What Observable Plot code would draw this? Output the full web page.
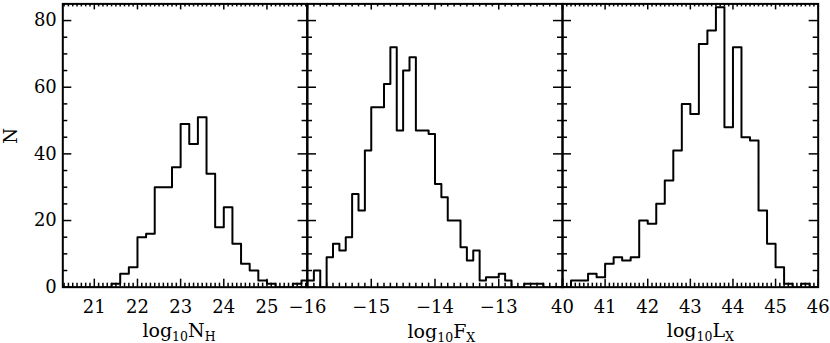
<!DOCTYPE html>
<html><head><meta charset="utf-8">
<script src="https://cdn.jsdelivr.net/npm/d3@7"></script>
<script src="https://cdn.jsdelivr.net/npm/@observablehq/plot@0.6"></script>
<style>
body{margin:0;background:#fff;}
#chart{position:relative;width:830px;height:343px;overflow:hidden;background:#fff;}
#chart svg{position:absolute;top:0;}
</style></head><body><div id="chart"></div>
<script>
// ---- data ----
const nhEdges  = [20.2,20.4,20.6,20.8,21.0,21.2,21.4,21.6,21.8,22.0,22.2,22.4,22.6,22.8,23.0,23.2,23.4,23.6,23.8,24.0,24.2,24.4,24.6,24.8,25.0,25.2,25.4,25.6,25.8,26.0];
const nhCounts = [0,0,0,0,0,0,1,4,6,15,16,30,30,36,49,43,51,34,18,24,13,7,5,2,1,0,0,1,2];

const fxEdges  = [-16.0,-15.9,-15.8,-15.7,-15.6,-15.5,-15.4,-15.3,-15.2,-15.1,-15.0,-14.9,-14.8,-14.7,-14.6,-14.5,-14.4,-14.3,-14.2,-14.1,-14.0,-13.9,-13.8,-13.7,-13.6,-13.5,-13.4,-13.3,-13.2,-13.1,-13.0,-12.9,-12.8,-12.7,-12.6,-12.5,-12.4,-12.3,-12.2,-12.1,-12.0];
const fxCounts = [2,5,0,9,13,11,15,28,23,41,54,54,61,72,47,65,69,47,47,46,31,27,20,20,12,8,11,2,3,3,4,2,0,0,1,1,1,0,0,0];

const lxEdges  = [40.0,40.2,40.4,40.6,40.8,41.0,41.2,41.4,41.6,41.8,42.0,42.2,42.4,42.6,42.8,43.0,43.2,43.4,43.6,43.8,44.0,44.2,44.4,44.6,44.8,45.0,45.2,45.4,45.6,45.8,46.0];
const lxCounts = [0,2,2,4,3,7,9,8,9,20,19,25,32,41,55,52,73,77,84,48,72,45,44,23,13,6,1,0,1,0];

const nhTickLabels = [21,22,23,24,25];
const fxTickLabels = [-16,-15,-14,-13];
const lxTickLabels = [40,41,42,43,44,45,46];
const yTickLabels  = [0,20,40,60,80];

const panels = [
  {edges:nhEdges, counts:nhCounts, domain:[20.27,25.93], labels:nhTickLabels,
   left:0, width:306.6, mL:62.3, title:["log","10","N","H"], tx:179, showY:true},
  {edges:fxEdges, counts:fxCounts, domain:[-16,-12], labels:fxTickLabels,
   left:306.6, width:255, mL:0, title:["log","10","F","X"], tx:441, showY:false},
  {edges:lxEdges, counts:lxCounts, domain:[40,46], labels:lxTickLabels,
   left:561.6, width:255.7, mL:0, title:["log","10","L","X"], tx:700, showY:false}
];

const H = 343, mT = 3.4, mB = 56.3;
const innerH = H - mT - mB;
const font = '"DejaVu Serif", serif';
const fmt = d => d < 0 ? "\u2212" + Math.abs(d) : String(d);
const root = document.getElementById("chart");

panels.forEach((p) => {
  const innerW = p.width - p.mL;
  const pts = p.edges.slice(0, p.counts.length).map((x, i) => ({x, n: p.counts[i]}));
  pts.push({x: p.edges[p.counts.length], n: p.counts[p.counts.length - 1]});
  const lo = Math.ceil(p.domain[0] * 10 - 1e-6), hi = Math.floor(p.domain[1] * 10 + 1e-6);
  const allT = d3.range(lo, hi + 1).map(v => v / 10);
  const majT = allT.filter(v => Math.abs(v - Math.round(v)) < 1e-6);
  const minT = allT.filter(v => Math.abs(v - Math.round(v)) >= 1e-6);
  const yMin = d3.range(0, 85, 5).filter(v => v % 20 !== 0);
  const yMaj = [0,20,40,60,80];
  const k = {stroke: "black", strokeWidth: 1.5};
  const marks = [
    Plot.line(pts, {x: "x", y: "n", curve: "step-after", stroke: "black", strokeWidth: 2, clip: true}),
    Plot.tickX(minT, {x: d => d, insetTop: innerH - 4, ...k}),
    Plot.tickX(majT, {x: d => d, insetTop: innerH - 8, ...k}),
    Plot.tickX(minT, {x: d => d, insetBottom: innerH - 3, ...k}),
    Plot.tickX(majT, {x: d => d, insetBottom: innerH - 6, ...k}),
    Plot.tickY(yMin, {y: d => d, insetRight: innerW - 5, ...k}),
    Plot.tickY(yMaj, {y: d => d, insetRight: innerW - 9, ...k}),
    Plot.tickY(yMin, {y: d => d, insetLeft: innerW - 5, ...k}),
    Plot.tickY(yMaj, {y: d => d, insetLeft: innerW - 9, ...k}),
    Plot.frame({stroke: "black", strokeWidth: 2}),
    Plot.axisX(p.labels, {anchor: "bottom", tickSize: 0, tickPadding: 13, fontSize: 18, tickFormat: fmt, label: null, fill: "black"})
  ];
  if (p.showY) marks.push(Plot.axisY(yTickLabels, {anchor: "left", tickSize: 0, tickPadding: 6, fontSize: 18, label: null, fill: "black"}));
  const svg = Plot.plot({
    width: p.width, height: H,
    marginLeft: p.mL, marginRight: 0, marginTop: mT, marginBottom: mB,
    style: {overflow: "visible", fontFamily: font, background: "transparent", position: "absolute", left: p.left + "px", top: "0px", maxWidth: "none"},
    x: {domain: p.domain},
    y: {domain: [0, 85], axis: p.showY ? undefined : null},
    marks
  });
  const s = d3.select(svg);
  const t = s.append("text").attr("x", p.tx - p.left).attr("y", 337.5)
    .attr("text-anchor", "middle").attr("font-family", font).attr("font-size", 19).attr("fill", "black");
  t.append("tspan").text(p.title[0]);
  t.append("tspan").attr("font-size", 12.5).attr("dy", 4).text(p.title[1]);
  t.append("tspan").attr("dy", -4).text(p.title[2]);
  t.append("tspan").attr("font-size", 12.5).attr("dy", 4).text(p.title[3]);
  if (p.showY) {
    s.append("text").attr("transform", "translate(17,136) rotate(-90)")
      .attr("text-anchor", "middle").attr("font-family", font).attr("font-size", 18).attr("fill", "black").text("N");
  }
  root.appendChild(svg);
});
</script></body></html>
